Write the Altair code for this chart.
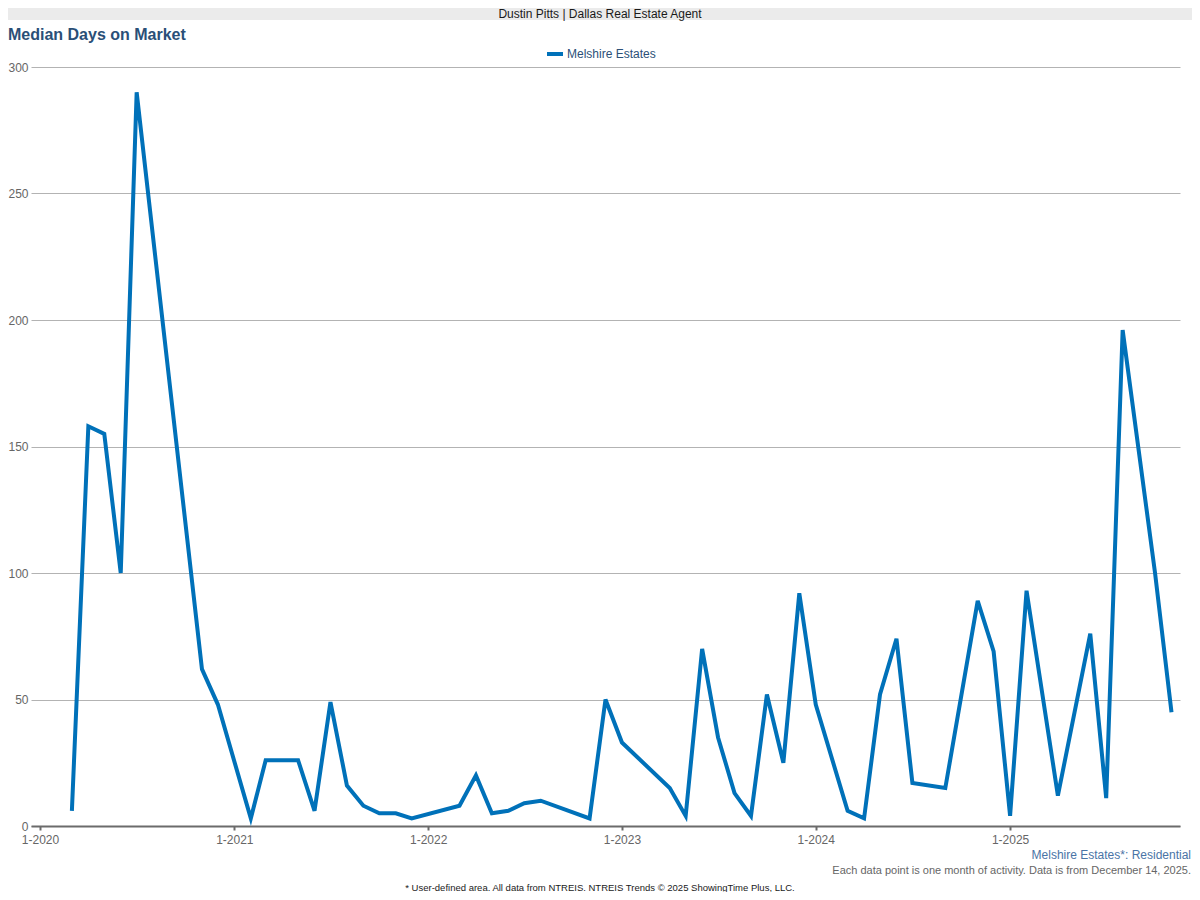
import altair as alt
import pandas as pd

# ---------------- data ----------------
months = [
    "2020-03", "2020-04", "2020-05", "2020-06", "2020-07", "2020-11", "2020-12",
    "2021-02", "2021-03", "2021-04", "2021-05", "2021-06", "2021-07", "2021-08",
    "2021-09", "2021-10", "2021-11", "2021-12",
    "2022-03", "2022-04", "2022-05", "2022-06", "2022-07", "2022-08", "2022-11", "2022-12",
    "2023-01", "2023-04", "2023-05", "2023-06", "2023-07", "2023-08", "2023-09",
    "2023-10", "2023-11", "2023-12",
    "2024-01", "2024-03", "2024-04", "2024-05", "2024-06", "2024-07", "2024-09",
    "2024-11", "2024-12",
    "2025-01", "2025-02", "2025-04", "2025-06", "2025-07", "2025-08", "2025-10", "2025-11",
]
median_days = [
    6, 158, 155, 100, 290, 62, 48,
    3, 26, 26, 26, 6, 49, 16,
    8, 5, 5, 3,
    8, 20, 5, 6, 9, 10, 3, 50,
    33, 15, 4, 70, 35, 13, 4,
    52, 25, 92,
    48, 6, 3, 52, 74, 17, 15,
    89, 69,
    4, 93, 12, 76, 11, 196, 100, 45,
]
year_ticks = [2020, 2021, 2022, 2023, 2024, 2025]
y_ticks = [0, 50, 100, 150, 200, 250, 300]

series_name = "Melshire Estates"
banner_text = "Dustin Pitts | Dallas Real Estate Agent"
title_text = "Median Days on Market"
area_text = "Melshire Estates*: Residential"
note_text = "Each data point is one month of activity. Data is from December 14, 2025."
footer_text = "* User-defined area. All data from NTREIS. NTREIS Trends \u00a9 2025 ShowingTime Plus, LLC."

# ---------------- styling ----------------
FONT = "Liberation Sans"
LINE = "#0071b9"
GRID = "#b3b3b3"
AXIS = "#6b6b6b"
LABEL = "#666666"
TITLE = "#2a4f77"

# page -> plot coordinates (plot origin is at page (31, 67))
PL, PT = 31, 67
def px(x):
    return x - PL
def py(y):
    return y - PT

W, H = 1149, 759

df = pd.DataFrame({
    "date": [m.replace("-", "/") + "/01" for m in months],
    "days": median_days,
})
one = pd.DataFrame({"k": [0]})

line = alt.Chart(df).mark_line(color=LINE, strokeWidth=4, strokeJoin="miter").encode(
    x=alt.X(
        "date:T",
        scale=alt.Scale(domain=[alt.DateTime(year=2019, month=12, date=15),
                                alt.DateTime(year=2025, month=11, date=17)]),
        axis=alt.Axis(
            title=None,
            values=[alt.DateTime(year=y, month=1, date=1) for y in year_ticks],
            format="%-m-%Y",
            grid=False,
            domainColor=AXIS, domainWidth=2,
            tickColor=AXIS, tickWidth=2, tickSize=4,
            labelPadding=4, labelFontSize=12, labelColor=LABEL, labelFont=FONT,
        ),
    ),
    y=alt.Y(
        "days:Q",
        scale=alt.Scale(domain=[0, 300], nice=False, zero=True),
        axis=alt.Axis(
            title=None, values=y_ticks, domain=False, ticks=False,
            labelPadding=3, labelFontSize=12, labelColor=LABEL, labelFont=FONT,
            grid=True, gridColor=GRID, gridWidth=1,
        ),
    ),
)

banner = alt.Chart(one).mark_rect(color="#ebebeb").encode(
    x=alt.value(-23), x2=alt.value(1161), y=alt.value(-59), y2=alt.value(py(20))
)
banner_t = alt.Chart(one).mark_text(
    align="center", baseline="middle", fontSize=12, font=FONT, color="#1a1a1a"
).encode(x=alt.value(px(600)), y=alt.value(py(14)), text=alt.value(banner_text))

title = alt.Chart(one).mark_text(
    align="left", baseline="alphabetic", fontSize=16, fontWeight="bold", font=FONT, color=TITLE
).encode(x=alt.value(px(8)), y=alt.value(py(39.5)), text=alt.value(title_text))

leg_sym = alt.Chart(one).mark_rule(color=LINE, strokeWidth=4).encode(
    x=alt.value(px(547)), x2=alt.value(px(563)), y=alt.value(py(54))
)
leg_txt = alt.Chart(one).mark_text(
    align="left", baseline="middle", fontSize=12, font=FONT, color="#2c5077"
).encode(x=alt.value(px(567)), y=alt.value(py(54)), text=alt.value(series_name))

area_t = alt.Chart(one).mark_text(
    align="right", baseline="middle", fontSize=12, font=FONT, color="#4a74a6"
).encode(x=alt.value(px(1191)), y=alt.value(py(855)), text=alt.value(area_text))
note_t = alt.Chart(one).mark_text(
    align="right", baseline="middle", fontSize=11, font=FONT, color=LABEL
).encode(x=alt.value(px(1191)), y=alt.value(py(871)), text=alt.value(note_text))
footer_t = alt.Chart(one).mark_text(
    align="center", baseline="middle", fontSize=9.5, font=FONT, color="#1a1a1a"
).encode(x=alt.value(px(600)), y=alt.value(py(887.5)), text=alt.value(footer_text))

chart = alt.layer(
    banner, banner_t, title, leg_sym, leg_txt, line, area_t, note_t, footer_t
).properties(
    width=W, height=H,
    autosize=alt.AutoSizeParams(type="none"),
    padding={"left": 23, "top": 59, "right": 1184 - 23 - W, "bottom": 884 - 59 - H},
    background="white",
).configure(font=FONT, view=alt.ViewConfig(stroke=None))

chart.save("out.html", embed_options={"renderer": "svg", "actions": False})
